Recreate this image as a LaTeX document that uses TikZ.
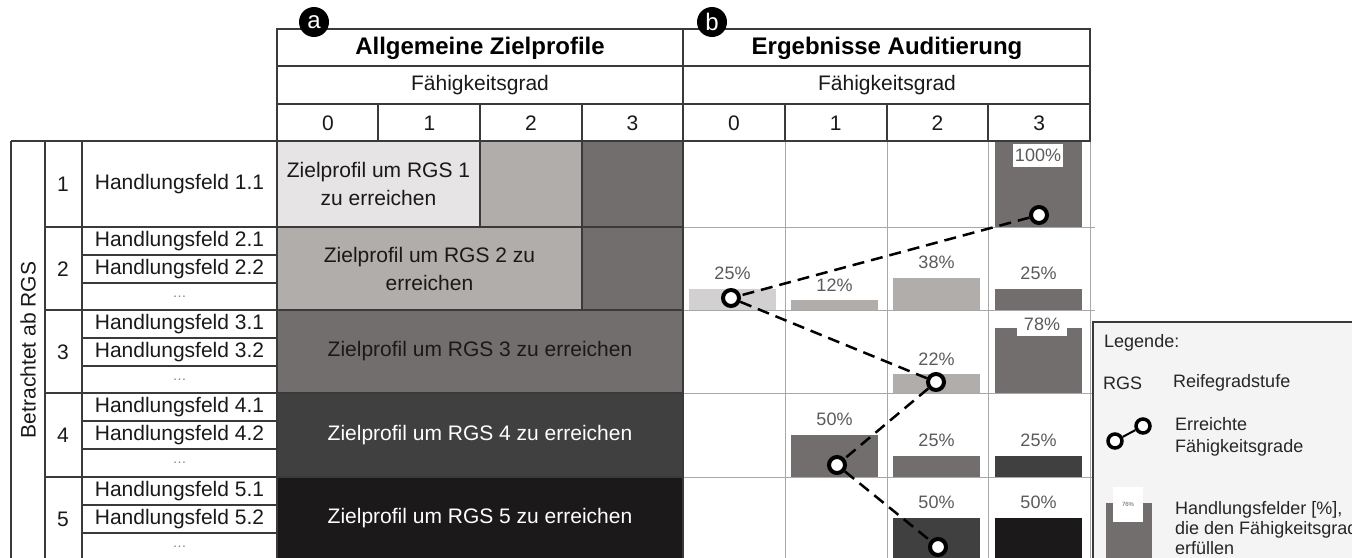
\documentclass[tikz,border=0pt]{standalone}
\usepackage{fontspec}
\setmainfont{Liberation Sans}
\usetikzlibrary{positioning}
\definecolor{rgsone}{HTML}{E6E4E4}
\definecolor{rgstwo}{HTML}{B1ADAA}
\definecolor{rgsthree}{HTML}{736E6E}
\definecolor{rgsfour}{HTML}{404040}
\definecolor{rgsfive}{HTML}{1B1919}
\definecolor{barlight}{HTML}{D2D0D0}
\definecolor{gridgray}{HTML}{A8A8A8}
\definecolor{linedark}{HTML}{3A3A3A}
\definecolor{pctgray}{HTML}{5A5A5A}
\definecolor{legendbg}{HTML}{F4F4F4}

\begin{document}
\begin{tikzpicture}[x=1pt,y=-1pt,
  txt/.style={font=\fontsize{21}{28}\selectfont,inner sep=0pt,align=center,text=black!90},
  head/.style={font=\fontsize{24}{28}\selectfont\bfseries,inner sep=0pt},
  pct/.style={font=\fontsize{18}{20}\selectfont,text=pctgray,inner sep=0pt},
  pctbox/.style={pct,fill=white,minimum width=50pt,minimum height=23pt},
  lgd/.style={font=\fontsize{18}{21}\selectfont,inner sep=0pt,align=left,text=black!85},
  badge/.style={circle,fill=black,text=white,minimum size=30pt,inner sep=0pt,font=\fontsize{24}{24}\selectfont},
  hit/.style={circle,draw=black,line width=4pt,fill=white,minimum size=16pt,inner sep=0pt},
  tabline/.style={draw=linedark,line width=1.2pt},
  bline/.style={draw=gridgray,line width=1pt}]

  \useasboundingbox (0,0) rectangle (1352,557);
  \clip (0,0) rectangle (1352,557);

  % target profiles
  \fill[rgsone] (277,141) rectangle (480,227);
  \fill[rgstwo] (480,141) rectangle (582,227);
  \fill[rgsthree] (582,141) rectangle (683,227);
  \fill[rgstwo] (277,227) rectangle (582,310);
  \fill[rgsthree] (582,227) rectangle (683,310);
  \fill[rgsthree] (277,310) rectangle (683,393);
  \fill[rgsfour] (277,393) rectangle (683,477);
  \fill[rgsfive] (277,477) rectangle (683,560);

  % grid of the audit results
  \foreach \x in {785,887,988,1090} \draw[bline] (\x,141) -- (\x,560);
  \foreach \y in {227,310,393,477} \draw[bline] (683,\y) -- (1095,\y);

  % bars
  \foreach \yb/\c/\p/\col in {310/0/25/barlight,310/1/12/rgstwo,310/2/38/rgstwo,
    310/3/25/rgsthree,393/2/22/rgstwo,477/1/50/rgsthree,477/2/25/rgsthree,
    477/3/25/rgsfour,560/2/50/rgsfour,560/3/50/rgsfive}
  {
    \fill[\col] ({689+102*\c},\yb) rectangle ({776+102*\c},{\yb-0.85*\p});
    \node[pct] (p-\yb-\c) at ({732.5+102*\c},{\yb-0.85*\p-15}) {\p\%};
  }
  \fill[rgsthree] (995,227) rectangle (1082,141);
  \node[pctbox] (p-227-3) at (1038,155) {100\%};
  \fill[rgsthree] (995,393) rectangle (1082,327.5);
  \node[pctbox] (p-393-3) at (1042,324) {78\%};

  % header
  \draw[tabline] (277,29) rectangle (1090,141);
  \draw[tabline] (277,66) -- (1090,66) (277,104) -- (1090,104);
  \foreach \x in {378,480,582,785,887,988} \draw[tabline] (\x,104) -- (\x,141);
  \draw[tabline] (683,29) -- (683,560);
  \node[badge] (bdga) at (314,22) {a};
  \node[badge] (bdgb) at (712,22) {b};
  \node[head] (ttla) at (480,48) {Allgemeine Zielprofile};
  \node[head] (ttlb) at (887,48) {Ergebnisse Auditierung};
  \node[txt] (fga) at (480,85) {Fähigkeitsgrad};
  \node[txt] (fgb) at (887,85) {Fähigkeitsgrad};
  \foreach \i in {0,...,3} {
    \node[txt] (ga-\i) at ({328+101.5*\i},123) {\i};
    \node[txt] (gb-\i) at ({734+101.7*\i},123) {\i};
  }

  % left part of the table
  \draw[tabline] (11,141) -- (683,141);
  \foreach \x in {11,45,82,277} \draw[tabline] (\x,141) -- (\x,560);
  \foreach \y in {227,310,393,477} \draw[tabline] (45,\y) -- (683,\y);
  \foreach \y in {227,310,393,477} \draw[tabline] (82,\y+28) -- (277,\y+28) (82,\y+56) -- (277,\y+56);
  \draw[tabline] (480,141) -- (480,227) (582,141) -- (582,310);
  \node[txt,rotate=90] (betr) at (28,350) {Betrachtet ab RGS};
  \node[txt] (n-1) at (63,184) {1};
  \node[txt] (hf-1) at (179.5,184) {Handlungsfeld 1.1};
  \foreach \r/\y in {2/227,3/310,4/393,5/477} {
    \node[txt] (n-\r) at (63,\y+42) {\r};
    \node[txt] (hf-\r-1) at (179.5,\y+14) {Handlungsfeld \r.1};
    \node[txt] (hf-\r-2) at (179.5,\y+42) {Handlungsfeld \r.2};
    \node[txt,text=gray,font=\fontsize{14}{14}\selectfont] (hf-\r-3) at (179.5,\y+70) {\ldots};
  }
  \node[txt] (zp-1) at (378.5,184) {Zielprofil um RGS 1\\zu erreichen};
  \node[txt] (zp-2) at (429.5,268.5) {Zielprofil um RGS 2 zu\\erreichen};
  \node[txt] (zp-3) at (480,351.5) {Zielprofil um RGS 3 zu erreichen};
  \node[txt,text=white] (zp-4) at (480,435) {Zielprofil um RGS 4 zu erreichen};
  \node[txt,text=white] (zp-5) at (480,518.5) {Zielprofil um RGS 5 zu erreichen};

  % reached levels
  \node[hit] (h1) at (1039,215) {};
  \node[hit] (h2) at (731,298) {};
  \node[hit] (h3) at (936,382) {};
  \node[hit] (h4) at (837,465) {};
  \node[hit] (h5) at (938,547) {};
  \draw[line width=2.5pt,dash pattern=on 12pt off 7pt] (h1) -- (h2) -- (h3) -- (h4) -- (h5);

  % legend
  \draw[draw=linedark,line width=1.2pt,fill=legendbg] (1093,322) rectangle (1370,580);
  \node[lgd,anchor=west] (lgd-ttl) at (1104,343) {Legende:};
  \node[lgd,anchor=west] (lgd-rgs) at (1103,383) {RGS};
  \node[lgd,anchor=west] (lgd-rgstxt) at (1173,383) {Reifegradstufe};
  \node[hit,line width=3.5pt,minimum size=14pt] (lh1) at (1115,441) {};
  \node[hit,line width=3.5pt,minimum size=14pt] (lh2) at (1143,426) {};
  \draw[line width=2pt] (lh1) -- (lh2);
  \node[lgd,anchor=west,font=\fontsize{18}{22}\selectfont] (lgd-hit) at (1175,437) {Erreichte\\Fähigkeitsgrade};
  \fill[rgsthree] (1106,503) rectangle (1152,580);
  \node[fill=white,minimum width=30pt,minimum height=35pt,inner sep=0pt,text=pctgray,font=\fontsize{6}{6}\selectfont] (lgd-pct) at (1128,504) {76\%};
  \node[lgd,anchor=west,font=\fontsize{18}{20}\selectfont] (lgd-bar) at (1175,528) {Handlungsfelder [\%],\\die den Fähigkeitsgrad\\erfüllen};
\end{tikzpicture}
\end{document}
